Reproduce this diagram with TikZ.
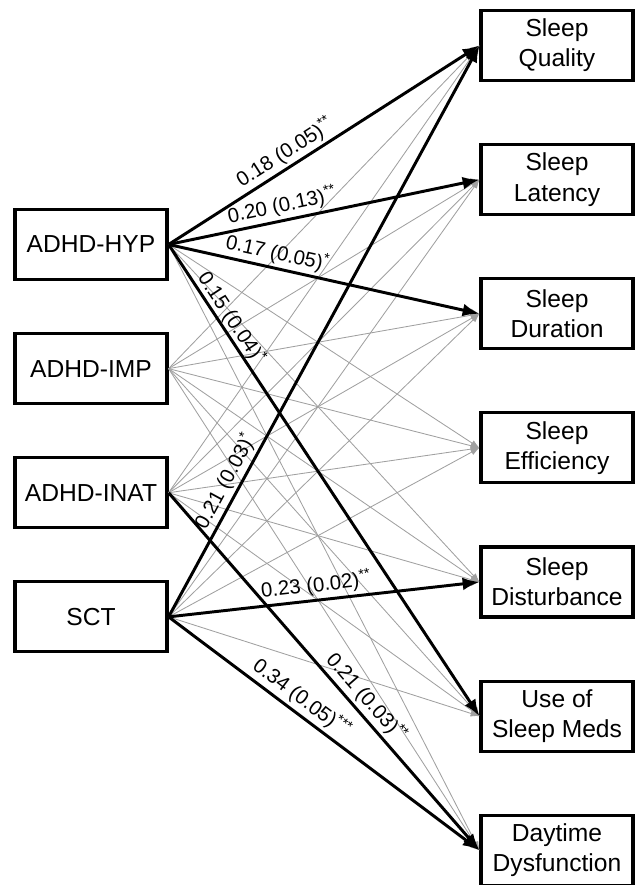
\documentclass[tikz,border=0pt]{standalone}
\usepackage{fontspec}
\setmainfont{Liberation Sans}
\usepackage{tikz}
\usetikzlibrary{arrows.meta,positioning}
\definecolor{PathGray}{RGB}{160,160,160}

\begin{document}
\begin{tikzpicture}[
  x=0.025cm, y=-0.025cm,
  varbox/.style={
    rectangle,
    draw=black,
    line width=2.2pt,
    fill=white,
    align=center,
    minimum width=3.8cm,
    minimum height=1.75cm,
    inner sep=1pt,
    font=\fontsize{17.5}{21.5}\selectfont
  },
  weak/.style={-{Latex[length=2.2mm,width=1.6mm]}, draw=PathGray, line width=0.6pt},
  sig/.style={-{Latex[length=4.2mm,width=3.2mm]}, line width=2.1pt},
  est/.style={sloped, above, inner sep=2pt, font=\fontsize{14.5}{17}\selectfont}
]
\useasboundingbox (0,0) rectangle (636,885);

% predictors
\node[varbox] (hyp) at (91,244.5) {ADHD-HYP};
\node[varbox, below=1.275cm of hyp] (imp) {ADHD-IMP};
\node[varbox, below=1.275cm of imp] (inat) {ADHD-INAT};
\node[varbox, below=1.275cm of inat] (sct) {SCT};

% sleep outcomes
\node[varbox] (qual) at (557,45.5) {Sleep\\Quality};
\node[varbox, below=1.525cm of qual] (lat) {Sleep\\Latency};
\node[varbox, below=1.525cm of lat] (dur) {Sleep\\Duration};
\node[varbox, below=1.525cm of dur] (eff) {Sleep\\Efficiency};
\node[varbox, below=1.525cm of eff] (dist) {Sleep\\Disturbance};
\node[varbox, below=1.525cm of dist] (meds) {Use of\\Sleep Meds};
\node[varbox, below=1.525cm of meds] (day) {Daytime\\Dysfunction};

\foreach \s in {hyp,imp,inat,sct}
  \foreach \t in {qual,lat,dur,eff,dist,meds,day}
    \draw[weak] (\s.east) -- (\t.west);

\draw[sig] (hyp.east) -- node[est, pos=0.40]{0.18 (0.05)\textsuperscript{**}} (qual.west);
\draw[sig] (hyp.east) -- node[est, pos=0.375]{0.20 (0.13)\textsuperscript{**}} (lat.west);
\draw[sig] (hyp.east) -- node[est, pos=0.34]{0.17 (0.05)\textsuperscript{*}} (dur.west);
\draw[sig] (hyp.east) -- node[est, pos=0.17, inner sep=0pt]{0.15 (0.04)\textsuperscript{*}} (meds.west);
\draw[sig] (inat.east) -- node[est, pos=0.60]{0.21 (0.03)\textsuperscript{**}} (day.west);
\draw[sig] (sct.east) -- node[est, pos=0.225]{0.21 (0.03)\textsuperscript{*}} (qual.west);
\draw[sig] (sct.east) -- node[est, pos=0.48]{0.23 (0.02)\textsuperscript{**}} (dist.west);
\draw[sig] (sct.east) -- node[est, pos=0.40]{0.34 (0.05)\textsuperscript{***}} (day.west);
\end{tikzpicture}
\end{document}
